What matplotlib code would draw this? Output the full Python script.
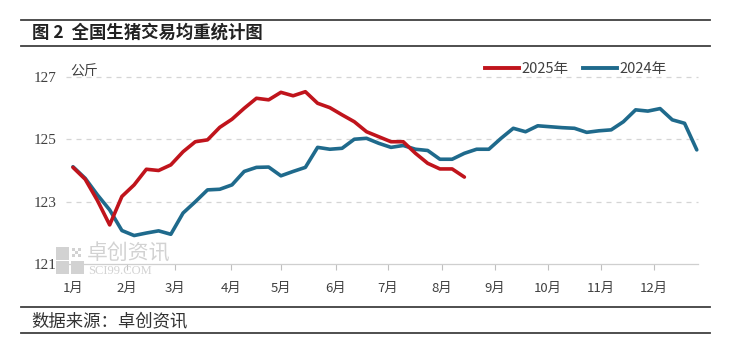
import matplotlib
matplotlib.use("Agg")
import matplotlib.pyplot as plt
import numpy as np
from matplotlib.patches import Rectangle
from matplotlib.lines import Line2D

plt.rcParams['font.family'] = ['Noto Sans CJK SC', 'DejaVu Sans']

# ---- data ----
months = ["1月", "2月", "3月", "4月", "5月", "6月", "7月", "8月", "9月", "10月", "11月", "12月"]
month_pos = [0, 4.42, 8.34, 12.92, 17.01, 21.5, 25.76, 30.17, 34.51, 38.84, 43.17, 47.51]

y2024 = [124.12, 123.75, 123.22, 122.74, 122.08, 121.92, 122.00, 122.07, 121.96, 122.64,
         123.00, 123.38, 123.40, 123.54, 123.97, 124.10, 124.11, 123.83, 123.97, 124.10,
         124.74, 124.68, 124.71, 125.00, 125.03, 124.87, 124.74, 124.80, 124.68, 124.64,
         124.36, 124.36, 124.55, 124.68, 124.68, 125.03, 125.35, 125.24, 125.43, 125.40,
         125.37, 125.35, 125.22, 125.27, 125.30, 125.56, 125.94, 125.90, 125.98, 125.62,
         125.51, 124.66]
y2025 = [124.10, 123.72, 123.04, 122.26, 123.17, 123.54, 124.04, 124.00, 124.18, 124.60,
         124.92, 124.98, 125.38, 125.64, 125.99, 126.31, 126.26, 126.50, 126.39, 126.52,
         126.15, 126.01, 125.78, 125.56, 125.24, 125.08, 124.92, 124.92, 124.55, 124.23,
         124.05, 124.05, 123.79]
yticks = [121, 123, 125, 127]

W, H = 740, 347
fig = plt.figure(figsize=(W / 100, H / 100), dpi=100)
fig.patch.set_facecolor("white")

def fx(px):
    return px / W

def fy(py):
    return 1 - py / H

ax = fig.add_axes([fx(66), fy(264.3), fx(698) - fx(66), fy(76.7) - fy(264.3)])

red = "#C0141C"
blue = "#1F6A8C"

# watermark
wm = "#d2d2d2"
for (x0, y0, s) in [(56, 247, 13), (56, 261, 13), (71, 261, 13)]:
    fig.patches.append(Rectangle((fx(x0), fy(y0 + s)), s / W, s / H, transform=fig.transFigure,
                                 facecolor=wm, edgecolor="none", zorder=0))
for (x0, y0) in [(72, 248), (78, 248), (75, 251), (72, 254), (78, 254)]:
    fig.patches.append(Rectangle((fx(x0), fy(y0 + 3)), 3 / W, 3 / H, transform=fig.transFigure,
                                 facecolor=wm, edgecolor="none", zorder=0))
fig.text(fx(87), fy(253.5), "卓创资讯", fontsize=15, color=wm, va="center", ha="left", zorder=0)
fig.text(fx(88), fy(271), "SCI99.COM", fontsize=9, color=wm, va="center", ha="left",
         family="Liberation Serif", zorder=0)

ax.set_facecolor("none")
x24 = np.arange(len(y2024))
x25 = np.arange(len(y2025))
ax.plot(x24, y2024, color=blue, lw=2.6, solid_joinstyle="round", solid_capstyle="round", zorder=3, clip_on=False)
ax.plot(x25, y2025, color=red, lw=2.6, solid_joinstyle="round", solid_capstyle="round", zorder=4, clip_on=False)

ax.set_xlim(-0.57, 51.1)
ax.set_ylim(121, 127)
ax.set_yticks(yticks)
ax.set_yticklabels([str(v) for v in yticks], family="Liberation Serif", fontsize=11, color="#404040")
ax.set_xticks(month_pos)
ax.set_xticklabels(months, fontsize=9.5, color="#404040")
ax.tick_params(axis="y", length=0, pad=7)
ax.tick_params(axis="x", length=4, width=0.8, color="#bfbfbf", pad=9)

for v in yticks[1:]:
    ax.axhline(v, color="#d5d5d5", lw=0.9, ls=(0, (4, 4)), zorder=1, clip_on=False)
for s in ["top", "right", "left"]:
    ax.spines[s].set_visible(False)
ax.spines["bottom"].set_color("#cfcfcf")
ax.spines["bottom"].set_linewidth(0.9)

# legend
handles = [Line2D([], [], color=red, lw=2.8), Line2D([], [], color=blue, lw=2.8)]
leg = fig.legend(handles, ["2025年", "2024年"], loc="center left",
                 bbox_to_anchor=(fx(485), fy(69)), ncol=2, frameon=False,
                 fontsize=10.5, handlelength=2.35, handletextpad=0.15,
                 columnspacing=1.0, borderpad=0, borderaxespad=0)
for t in leg.get_texts():
    t.set_color("#404040")

fig.text(fx(70), fy(72), "公斤", fontsize=10, color="#404040", va="center", ha="left")

# title & source with rules
rule_c = "#404040"
for yy in [20, 45.5, 306.7, 332.5]:
    fig.add_artist(Line2D([fx(21), fx(710)], [fy(yy), fy(yy)], color=rule_c, lw=1.3,
                          transform=fig.transFigure))
fig.text(fx(32), fy(33), "图 2  全国生猪交易均重统计图", fontsize=12.5, fontweight="bold",
         color="#222222", va="center", ha="left")
fig.text(fx(31), fy(321), "数据来源：卓创资讯", fontsize=12.5, color="#333333",
         va="center", ha="left")

fig.savefig("out.png", dpi=100, facecolor="white")
